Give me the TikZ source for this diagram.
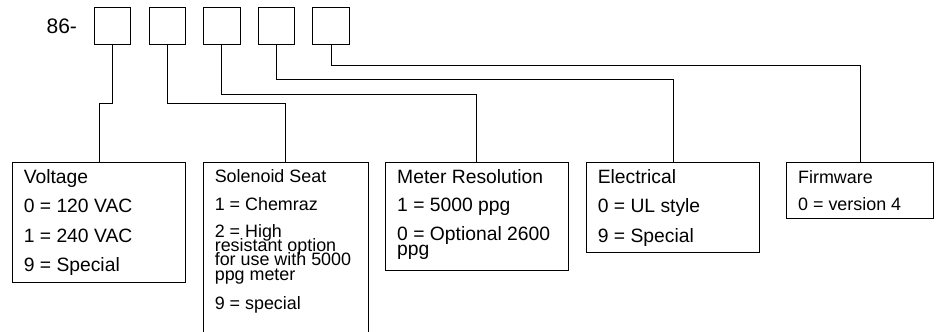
\documentclass[tikz,border=0pt]{standalone}
\usepackage{fontspec}
\setmainfont{Liberation Sans}
\newcommand{\tightpar}[2]{\parbox[t]{160pt}{\raggedright\baselineskip=#1\lineskiplimit=-30pt\relax #2}}
\begin{document}
\begin{tikzpicture}[x=1pt,y=-1pt,
  digit/.style={draw, line width=1pt, minimum width=36.4pt, minimum height=36.3pt, inner sep=0pt, outer sep=0pt, anchor=north west},
  box/.style={draw, line width=1pt, inner sep=0pt, outer sep=0pt, anchor=north west},
  big/.style={anchor=base west, inner sep=0pt, font=\fontsize{19.3}{22}\selectfont},
  small/.style={anchor=base west, inner sep=0pt, font=\fontsize{17.9}{20}\selectfont},
  wire/.style={line width=1pt}]
\clip (0,0) rectangle (938,332);
\fill[white] (0,0) rectangle (938,332);
% top digit boxes
\node[anchor=base west, inner sep=0pt, font=\fontsize{21}{24}\selectfont] (pre) at (46.4,33.3) {86-};
\node[digit] (d1) at (94.4,7.8) {};
\node[digit] (d2) at (149.0,7.8) {};
\node[digit] (d3) at (203.6,7.8) {};
\node[digit] (d4) at (258.2,7.8) {};
\node[digit] (d5) at (312.8,7.8) {};
% option boxes
\node[box, minimum width=173pt, minimum height=119.6pt] (vbox) at (12.3,162.7) {};
\node[box, minimum width=164.7pt, minimum height=190pt] (sbox) at (203.3,162.7) {};
\node[box, minimum width=182.6pt, minimum height=107.3pt] (mbox) at (385.7,162.7) {};
\node[box, minimum width=173.4pt, minimum height=89.6pt] (ebox) at (586.3,162.7) {};
\node[box, minimum width=146.3pt, minimum height=56pt] (fbox) at (786.7,162.7) {};
% junctions
\coordinate (j1) at (99,103.7);
\coordinate (j2) at (285.7,103.7);
\coordinate (j3) at (476.7,94);
\coordinate (j4) at (673.3,79.3);
\coordinate (j5) at (860,65);
\draw[wire] (d1.south) |- (j1) -- (j1 |- vbox.north);
\draw[wire] (d2.south) |- (j2) -- (j2 |- sbox.north);
\draw[wire] (d3.south) |- (j3) -- (j3 |- mbox.north);
\draw[wire] (d4.south) |- (j4) -- (j4 |- ebox.north);
\draw[wire] (d5.south) |- (j5) -- (j5 |- fbox.north);
% Voltage
\node[big] (v0) at (23.6,183.3) {Voltage};
\node[big] (v1) at (23.6,212.8) {0 = 120 VAC};
\node[big] (v2) at (23.6,242.3) {1 = 240 VAC};
\node[big] (v3) at (23.6,271.8) {9 = Special};
% Solenoid Seat
\node[small] (s0) at (214.6,182.7) {Solenoid Seat};
\node[small] (s1) at (214.6,210.0) {1 = Chemraz};
\node[small] (s2) at (214.6,237.3) {\tightpar{14.3pt}{2 = High\\resistant option\\for use with 5000\\ppg meter}};
\node[small] (s6) at (214.6,309.3) {9 = special};
% Meter Resolution
\node[big] (m0) at (397.0,183.3) {Meter Resolution};
\node[big] (m1) at (397.0,211.7) {1 = 5000 ppg};
\node[big] (m2) at (397.0,240.0) {\tightpar{15pt}{0 = Optional 2600\\ppg}};
% Electrical
\node[big] (e0) at (597.6,183.3) {Electrical};
\node[big] (e1) at (597.6,212.7) {0 = UL style};
\node[big] (e2) at (597.6,242.7) {9 = Special};
% Firmware
\node[small] (f0) at (798.0,183.3) {Firmware};
\node[small] (f1) at (798.0,210.0) {0 = version 4};
\end{tikzpicture}
\end{document}
